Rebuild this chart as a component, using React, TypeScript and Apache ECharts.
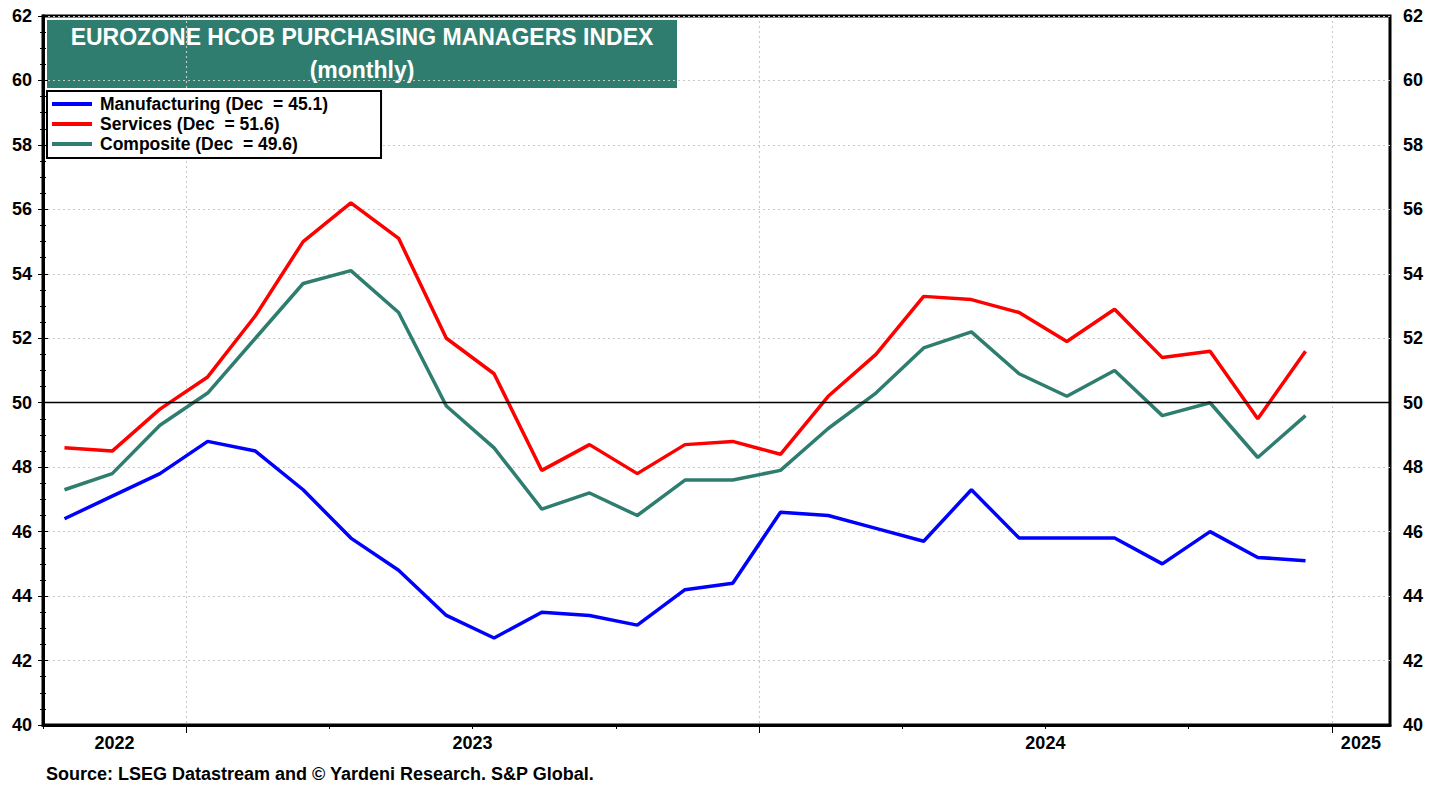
import React, { useEffect, useRef } from "react";
import * as echarts from "echarts";

// ---- data ----
const months = [
  "2022-10", "2022-11", "2022-12",
  "2023-01", "2023-02", "2023-03", "2023-04", "2023-05", "2023-06",
  "2023-07", "2023-08", "2023-09", "2023-10", "2023-11", "2023-12",
  "2024-01", "2024-02", "2024-03", "2024-04", "2024-05", "2024-06",
  "2024-07", "2024-08", "2024-09", "2024-10", "2024-11", "2024-12",
];
const manufacturing = [
  46.4, 47.1, 47.8,
  48.8, 48.5, 47.3, 45.8, 44.8, 43.4, 42.7, 43.5, 43.4, 43.1, 44.2, 44.4,
  46.6, 46.5, 46.1, 45.7, 47.3, 45.8, 45.8, 45.8, 45.0, 46.0, 45.2, 45.1,
];
const services = [
  48.6, 48.5, 49.8,
  50.8, 52.7, 55.0, 56.2, 55.1, 52.0, 50.9, 47.9, 48.7, 47.8, 48.7, 48.8,
  48.4, 50.2, 51.5, 53.3, 53.2, 52.8, 51.9, 52.9, 51.4, 51.6, 49.5, 51.6,
];
const composite = [
  47.3, 47.8, 49.3,
  50.3, 52.0, 53.7, 54.1, 52.8, 49.9, 48.6, 46.7, 47.2, 46.5, 47.6, 47.6,
  47.9, 49.2, 50.3, 51.7, 52.2, 50.9, 50.2, 51.0, 49.6, 50.0, 48.3, 49.6,
];
const seriesNames = ["Manufacturing", "Services", "Composite"];
const yearLabels = ["2022", "2023", "2024", "2025"];
const titleLines = ["EUROZONE HCOB PURCHASING MANAGERS INDEX", "(monthly)"];
const sourceText = "Source: LSEG Datastream and \u00A9 Yardeni Research. S&P Global.";
const referenceLevel = 50;
const yMin = 40;
const yMax = 62;
const yStep = 2;

// ---- helpers ----
const FONT = "'Liberation Sans', Arial, Helvetica, sans-serif";
const COLORS = ["#0000FF", "#FF0000", "#2E7D6E"];
const TEAL = "#2E7D6F";
const H_GRID = "#c8c8c8";
const V_GRID = "#cacaca";

const firstYear = 2022;
const firstMonth = 10;
// axis value 0 = start of first month; point sits at mid-month
const monthIndex = (s: string) => {
  const [y, m] = s.split("-").map(Number);
  return (y - firstYear) * 12 + (m - firstMonth);
};
const xOf = (s: string) => monthIndex(s) + 0.45;
const axisMax = months.length + 1.22; // runs into early Feb 2025
const yearStarts = yearLabels.slice(1).map((y) => monthIndex(`${y}-01`));
const bounds = [0, ...yearStarts, axisMax];
const yearLabelPos = yearLabels.map((_, i) => (bounds[i] + bounds[i + 1]) / 2);
const quarterTicks: number[] = [];
for (let v = 0; v <= axisMax; v += 3) quarterTicks.push(v);

const allValues = [manufacturing, services, composite];
const legendNames = seriesNames.map(
  (n, i) => `${n} (Dec  = ${allValues[i][allValues[i].length - 1].toFixed(1)})`
);

export default function App() {
  const ref = useRef<HTMLDivElement>(null);

  useEffect(() => {
    if (!ref.current) return;
    const chart = echarts.init(ref.current, undefined, { renderer: "svg" });

    const yAxisBase = {
      type: "value" as const,
      min: yMin,
      max: yMax,
      interval: yStep,
      axisLine: { show: true, lineStyle: { color: "#000", width: 3 } },
      axisTick: { show: true, length: 5, lineStyle: { color: "#000", width: 1 } },
      minorTick: { show: true, splitNumber: 4, length: 3, lineStyle: { color: "#000", width: 1 } },
    };
    const yLabelStyle = {
      color: "#000",
      fontSize: 18,
      fontWeight: "bold" as const,
      fontFamily: FONT,
    };

    const option: any = {
      animation: false,
      backgroundColor: "#fff",
      grid: {
        left: 43,
        right: 52,
        top: 16,
        bottom: 64,
        show: true,
        borderColor: "#000",
        borderWidth: 3,
        containLabel: false,
      },
      xAxis: [
        {
          type: "value",
          min: 0,
          max: axisMax,
          position: "bottom",
          axisLine: { show: true, onZero: false, lineStyle: { color: "#000", width: 3 } },
          axisTick: {
            show: true,
            customValues: quarterTicks,
            length: 4,
            lineStyle: { color: "#000", width: 1 },
          },
          axisLabel: {
            customValues: yearLabelPos,
            formatter: (v: number) => {
              const i = yearLabelPos.findIndex((p) => Math.abs(p - v) < 0.01);
              return i >= 0 ? yearLabels[i] : "";
            },
            color: "#000",
            fontSize: 18,
            fontWeight: "bold",
            fontFamily: FONT,
            margin: 9,
          },
          splitLine: { show: false },
          minorSplitLine: { show: false },
        },
        {
          type: "value",
          min: 0,
          max: axisMax,
          position: "bottom",
          axisLine: { show: false, onZero: false },
          axisTick: {
            show: true,
            customValues: yearStarts,
            length: 8,
            lineStyle: { color: "#000", width: 1 },
          },
          axisLabel: { show: false },
          splitLine: {
            show: true,
            lineStyle: { color: V_GRID, width: 1.1, type: [2, 3] },
          },
          minorSplitLine: { show: false },
        },
      ],
      yAxis: [
        {
          ...yAxisBase,
          position: "left",
          axisLabel: { ...yLabelStyle, margin: 11 },
          splitLine: {
            show: true,
            lineStyle: { color: H_GRID, width: 1.2, type: [2, 3] },
          },
        },
        {
          ...yAxisBase,
          position: "right",
          axisLabel: { ...yLabelStyle, margin: 13 },
          splitLine: { show: false },
        },
      ],
      legend: {
        data: legendNames,
        orient: "vertical",
        left: 47,
        top: 91,
        icon: "rect",
        itemWidth: 40,
        itemHeight: 4,
        itemGap: 0,
        padding: [3, 53, 4, 5],
        borderColor: "#000",
        borderWidth: 2,
        backgroundColor: "#fff",
        selectedMode: false,
        textStyle: {
          color: "#000",
          fontSize: 17.5,
          lineHeight: 20,
          fontWeight: "bold",
          fontFamily: FONT,
          padding: [0, 0, 0, 3],
        },
      },
      graphic: [
        {
          type: "group",
          left: 47,
          top: 20,
          z: 10,
          children: [
            {
              type: "rect",
              shape: { x: 0, y: 0, width: 630, height: 68 },
              style: { fill: TEAL },
            },
            {
              type: "text",
              x: 315,
              y: 16.5,
              style: {
                text: titleLines[0],
                fill: "#fff",
                font: `bold 23px ${FONT}`,
                textAlign: "center",
                textVerticalAlign: "middle",
              },
            },
            {
              type: "text",
              x: 315,
              y: 49.5,
              style: {
                text: titleLines[1],
                fill: "#fff",
                font: `bold 23px ${FONT}`,
                textAlign: "center",
                textVerticalAlign: "middle",
              },
            },
          ],
        },
        {
          type: "text",
          left: 46,
          top: 765,
          style: {
            text: sourceText,
            fill: "#000",
            font: `bold 18px ${FONT}`,
          },
        },
      ],
      series: [
        {
          type: "line",
          name: "guides",
          data: [],
          z: 1,
          silent: true,
          markLine: {
            silent: true,
            symbol: "none",
            label: { show: false },
            data: [
              {
                yAxis: referenceLevel,
                lineStyle: { color: "#000", width: 1.3, type: "solid" },
              },
            ],
          },
        },
        ...allValues.map((vals, i) => ({
          type: "line",
          name: legendNames[i],
          data: months.map((m, j) => [xOf(m), vals[j]]),
          symbol: "none",
          showSymbol: false,
          z: 3,
          lineStyle: { color: COLORS[i], width: 3.5 },
          itemStyle: { color: COLORS[i] },
        })),
      ],
    };

    chart.setOption(option);
    return () => chart.dispose();
  }, []);

  return (
    <div
      ref={ref}
      style={{ position: "absolute", left: 0, top: 0, width: 1442, height: 789 }}
    />
  );
}
